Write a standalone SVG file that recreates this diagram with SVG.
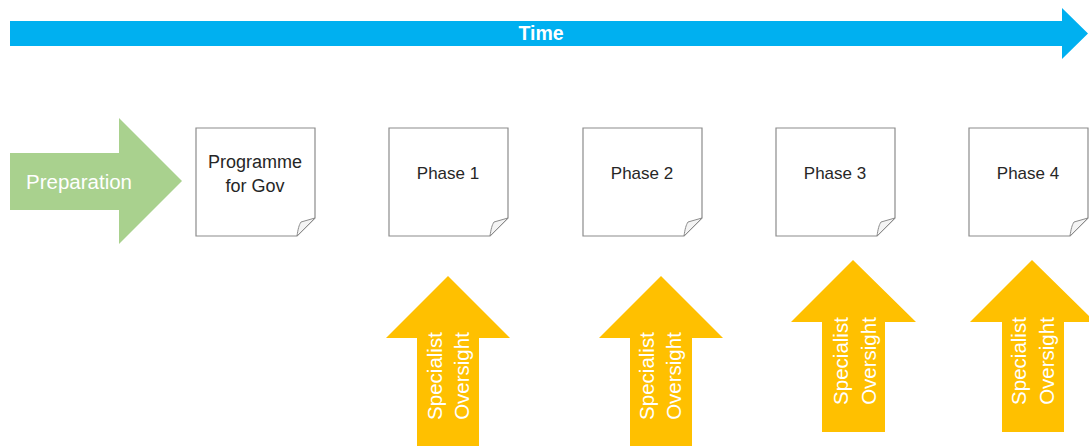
<svg xmlns="http://www.w3.org/2000/svg" width="1089" height="446" viewBox="0 0 1089 446">
<style>
.doc{fill:#ffffff;stroke:#8c8c8c;stroke-width:1.2}
.fold{fill:#f4f4f4;stroke:#8c8c8c;stroke-width:1}
.lbl{font-family:"Liberation Sans",Arial,sans-serif;font-size:17px;fill:#262626;text-anchor:middle}
.up{fill:#FFC000}
.vt{font-family:"Liberation Sans",Arial,sans-serif;font-size:20.5px;fill:#ffffff;text-anchor:middle}
</style>
<defs>
<g id="docshape">
<path class="doc" d="M0,0 H119 V90 L101,108 H0 Z"/>
<path class="fold" d="M101,108 C102,101 103,97 105,94 L119,90 Z"/>
</g>
<path id="uparrow" class="up" d="M0,0 L62,62 L31,62 L31,180 L-31,180 L-31,62 L-62,62 Z"/>
</defs>
<g id="time">
<path fill="#00B0F0" d="M10,21 H1062 V8 L1088,33.5 L1062,59 V46 H10 Z"/>
<text x="541" y="40" font-family="Liberation Sans,Arial,sans-serif" font-size="19.5" font-weight="bold" fill="#ffffff" text-anchor="middle">Time</text>
</g>
<g id="preparation">
<path fill="#A9D18E" d="M10,153 H119 V118 L182,181 L119,244 V210 H10 Z"/>
<text x="79" y="189" font-family="Liberation Sans,Arial,sans-serif" font-size="20.5" fill="#ffffff" text-anchor="middle">Preparation</text>
</g>
<g id="programme">
<use href="#docshape" transform="translate(196,128)"/>
<text class="lbl" x="255" y="168" style="font-size:18px">Programme</text>
<text class="lbl" x="255" y="192" style="font-size:18px">for Gov</text>
</g>
<g id="phase1">
<use href="#docshape" transform="translate(389,128)"/>
<text class="lbl" x="448" y="179">Phase 1</text>
</g>
<g id="phase2">
<use href="#docshape" transform="translate(583,128)"/>
<text class="lbl" x="642" y="179">Phase 2</text>
</g>
<g id="phase3">
<use href="#docshape" transform="translate(776,128)"/>
<text class="lbl" x="835" y="179">Phase 3</text>
</g>
<g id="phase4">
<use href="#docshape" transform="translate(969,128)"/>
<text class="lbl" x="1028" y="179">Phase 4</text>
</g>
<g id="oversight1">
<use href="#uparrow" transform="translate(448,276)"/>
<g transform="translate(448,376) rotate(-90)">
<text class="vt" x="0" y="-6">Specialist</text>
<text class="vt" x="0" y="21">Oversight</text>
</g>
</g>
<g id="oversight2">
<use href="#uparrow" transform="translate(661,276)"/>
<g transform="translate(661,376) rotate(-90)">
<text class="vt" x="0" y="-7">Specialist</text>
<text class="vt" x="0" y="20">Oversight</text>
</g>
</g>
<g id="oversight3">
<path class="up" d="M853,260 L916,322 L885,322 L885,432 L822,432 L822,322 L791,322 Z"/>
<g transform="translate(855,361) rotate(-90)">
<text class="vt" x="0" y="-7">Specialist</text>
<text class="vt" x="0" y="21">Oversight</text>
</g>
</g>
<g id="oversight4">
<path class="up" d="M1032,260 L1095,322 L1064,322 L1064,432 L1002,432 L1002,322 L970,322 Z"/>
<g transform="translate(1033,361) rotate(-90)">
<text class="vt" x="0" y="-7">Specialist</text>
<text class="vt" x="0" y="21">Oversight</text>
</g>
</g>
<g id="connectors"></g>
</svg>
